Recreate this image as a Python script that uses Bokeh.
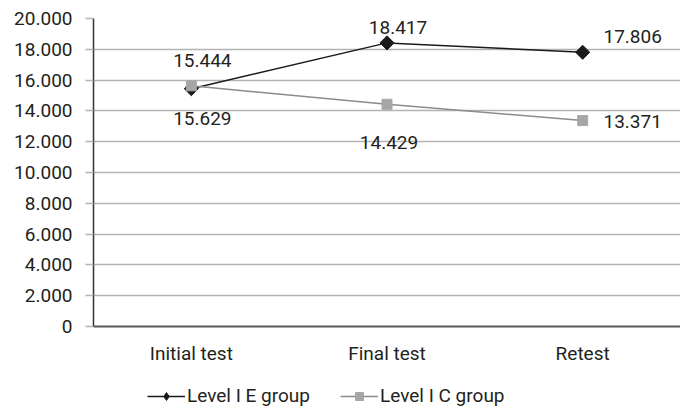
import math
from bokeh.plotting import figure
from bokeh.layouts import column
from bokeh.models import (ColumnDataSource, FactorRange, Range1d, FixedTicker,
                          CustomJSTickFormatter, Legend, LegendItem)
from bokeh.core.properties import value
from bokeh.embed import file_html
from bokeh.resources import INLINE

categories = ["Initial test", "Final test", "Retest"]
e_group = [15.444, 18.417, 17.806]
c_group = [15.629, 14.429, 13.371]
y_ticks = [0, 2, 4, 6, 8, 10, 12, 14, 16, 18, 20]
series_names = ["Level I E group", "Level I C group"]

# label placement (screen px offsets) - style only
e_dx = [11, 11, 50]
e_dy = [-28, -15, -16]
c_dx = [11, 2, 50]
c_dy = [33, 38, 1]

FONT = "Roboto"
FS = "19px"
TXT = "#231f20"
E_COLOR = "#1a1a1a"
C_LINE = "#8c8c8c"
C_FILL = "#a6a6a6"

p = figure(width=680, height=378, output_backend="svg", toolbar_location=None,
           x_range=FactorRange(*categories, range_padding=0),
           y_range=Range1d(0, 20),
           min_border_left=93, min_border_right=0, min_border_top=18,
           min_border_bottom=52)
p.outline_line_color = None
p.background_fill_color = "white"
p.border_fill_color = "white"

p.xgrid.grid_line_color = None
p.ygrid.grid_line_color = "#b3b3b3"
p.ygrid.grid_line_width = 1.5
p.ygrid.ticker = FixedTicker(ticks=y_ticks)

p.yaxis.ticker = FixedTicker(ticks=y_ticks)
p.yaxis.formatter = CustomJSTickFormatter(code="return tick == 0 ? '0' : tick.toFixed(3);")
p.yaxis.axis_line_color = "#333333"
p.yaxis.axis_line_width = 1.5
p.yaxis.major_tick_in = 0
p.yaxis.major_tick_out = 8
p.yaxis.major_tick_line_color = "#b3b3b3"
p.yaxis.major_tick_line_width = 1.5
p.yaxis.minor_tick_line_color = None
p.yaxis.major_label_text_font = FONT
p.yaxis.major_label_text_font_size = FS
p.yaxis.major_label_text_color = TXT
p.yaxis.major_label_standoff = 13

p.xaxis.axis_line_color = "#595959"
p.xaxis.axis_line_width = 2
p.xaxis.major_tick_line_color = None
p.xaxis.minor_tick_line_color = None
p.xaxis.major_label_text_font = FONT
p.xaxis.major_label_text_font_size = FS
p.xaxis.major_label_text_color = TXT
p.xaxis.major_label_standoff = 9

src_e = ColumnDataSource(dict(x=categories, y=e_group,
                              lab=["%.3f" % v for v in e_group], dx=e_dx, dy=e_dy))
src_c = ColumnDataSource(dict(x=categories, y=c_group,
                              lab=["%.3f" % v for v in c_group], dx=c_dx, dy=c_dy))

p.line("x", "y", source=src_e, line_color=E_COLOR, line_width=1.5)
p.scatter("x", "y", source=src_e, marker="square", size=10, angle=math.pi / 4,
          fill_color=E_COLOR, line_color=E_COLOR)
p.line("x", "y", source=src_c, line_color=C_LINE, line_width=1.5)
p.scatter("x", "y", source=src_c, marker="square", size=10,
          fill_color=C_FILL, line_color=C_FILL)

for src in (src_e, src_c):
    p.text("x", "y", text="lab", source=src, x_offset="dx", y_offset="dy",
           text_align="center", text_baseline="middle",
           text_font=value(FONT), text_font_size=FS, text_color=TXT)

# legend strip below the chart (its frame is aligned with the chart's frame)
lg = figure(width=680, height=32, output_backend="svg", toolbar_location=None,
            x_range=Range1d(0, 1), y_range=Range1d(0, 1),
            min_border_left=0, min_border_right=0, min_border_top=0,
            min_border_bottom=0)
lg.axis.visible = False
lg.grid.visible = False
lg.outline_line_color = None
lg.border_fill_color = "white"
# proxy renderers, kept outside the visible range; used only for legend swatches
proxy = ColumnDataSource(dict(x=[5], y=[5]))
le = lg.line("x", "y", source=proxy, line_color=E_COLOR, line_width=1.5)
me = lg.scatter("x", "y", source=proxy, marker="diamond", size=13,
                fill_color=E_COLOR, line_color=E_COLOR)
lc = lg.line("x", "y", source=proxy, line_color=C_LINE, line_width=1.5)
mc = lg.scatter("x", "y", source=proxy, marker="square", size=8,
                fill_color=C_FILL, line_color=C_FILL)

legend = Legend(items=[LegendItem(label=series_names[0], renderers=[le, me]),
                       LegendItem(label=series_names[1], renderers=[lc, mc])],
                orientation="horizontal", location=(54, 3),
                padding=0, margin=0, spacing=30, label_standoff=2,
                glyph_width=38, glyph_height=20, label_height=20,
                label_text_font=FONT, label_text_font_size=FS,
                label_text_color=TXT,
                border_line_color=None, background_fill_alpha=0)
lg.add_layout(legend, "center")

layout = column(p, lg, spacing=0)
open("out.html", "w").write(file_html(layout, INLINE))
